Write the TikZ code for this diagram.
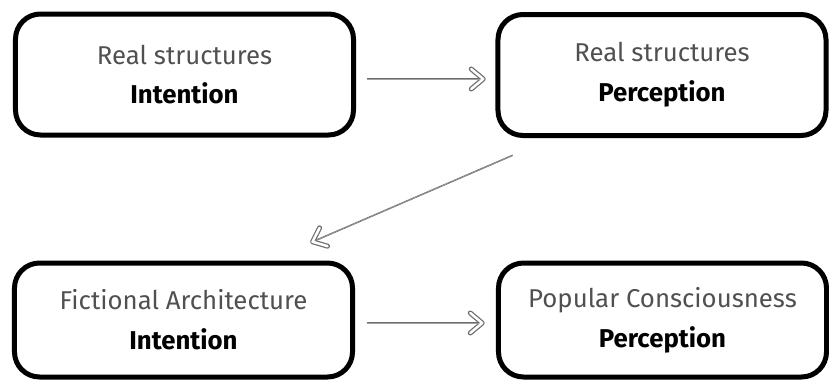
\documentclass[tikz,border=0pt]{standalone}
\usepackage{fontspec}
\setmainfont{Fira Sans}
\usetikzlibrary{arrows.meta}
\definecolor{textgray}{HTML}{505050}
\definecolor{linegray}{HTML}{6E6E6E}
\begin{document}
\begin{tikzpicture}[x=0.03cm,y=-0.03cm,
    box/.style={draw,line width=0.15cm,rounded corners=0.75cm,align=center,
      font=\fontsize{22}{34}\selectfont,minimum height=#1},
    wide/.style={minimum width=10.14cm},
    narrow/.style={minimum width=9.84cm},
    flow/.style={draw=linegray,line width=0.045cm,
      -{Straight Barb[length=0.36cm,width=0.6cm,line width'=0.15cm,round]},
      postaction={draw=white,line width=0.01pt,shorten >=0.0375cm,
        -{Straight Barb[length=0.36cm,width=0.6cm,line width'=0.075cm,round]}}}]
  \useasboundingbox (0,0) rectangle (829,380);
  \node[box=3.63cm,wide] (realint) at (184.5,74.5) {{\color{textgray}Real structures}\\\textbf{Intention}}; % top left
  \node[box=3.63cm,narrow] (realper) at (662,75) {{\color{textgray}Real structures}\\\textbf{Perception}}; % top right
  \node[box=3.42cm,wide] (fictint) at (183.5,320) {{\color{textgray}Fictional Architecture}\\\textbf{Intention}}; % bottom left
  \node[box=3.42cm,narrow] (popper) at (662.5,320) {{\color{textgray}Popular Consciousness}\\\textbf{Perception}}; % bottom right
  \coordinate (a1) at ([shift={(11.25,4.5)}]realint.east);
  \coordinate (b1) at ([shift={(-9.75,4)}]realper.west);
  \coordinate (a2) at ([shift={(17.25,17.25)}]realper.south west);
  \coordinate (b2) at ([shift={(-44.75,-17.75)}]fictint.north east);
  \coordinate (a3) at ([shift={(12.25,3)}]fictint.east);
  \coordinate (b3) at ([shift={(-11.25,3)}]popper.west);
  \draw[flow] (a1) -- (b1); % intention -> perception
  \draw[flow] (a2) -- (b2); % perception -> fiction
  \draw[flow] (a3) -- (b3); % fiction -> popular
\end{tikzpicture}
\end{document}
